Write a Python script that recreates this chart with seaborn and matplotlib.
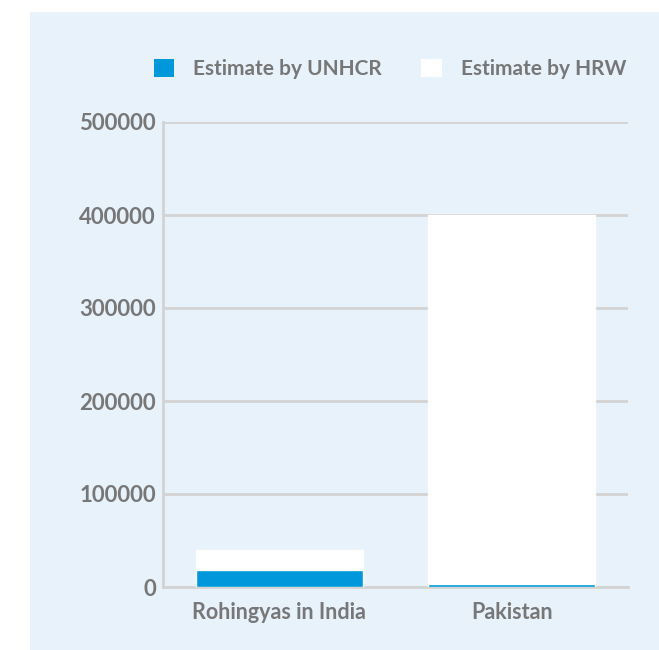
import matplotlib
matplotlib.use("Agg")
import matplotlib.pyplot as plt
from matplotlib.patches import Rectangle, Patch
import seaborn as sns
import pandas as pd

categories = ["Rohingyas in India", "Pakistan"]
unhcr = [18000, 3000]
hrw = [40000, 400000]
yticks = [0, 100000, 200000, 300000, 400000, 500000]
series_names = ["Estimate by UNHCR", "Estimate by HRW"]

BLUE = "#0098DA"
BG = "#E8F2FB"
GRID = "#D3D3D3"
TXT = "#777777"

sns.set_style("white")
plt.rcParams['font.family'] = ['Lato', 'DejaVu Sans']

W, H = 659, 650
fig = plt.figure(figsize=(W / 100, H / 100), dpi=100)
fig.patch.set_facecolor("white")
fig.patches.append(Rectangle((30 / W, 0), 1 - 30 / W, (H - 12) / H,
                             transform=fig.transFigure, facecolor=BG,
                             edgecolor="none", zorder=-10))

ax = fig.add_axes([163 / W, (H - 587) / H, 465 / W, 465 / H])
ax.set_facecolor("none")

df = pd.DataFrame({"cat": categories, "unhcr": unhcr, "hrw": hrw})
sns.barplot(data=df, x="cat", y="hrw", color="white", width=0.72,
            saturation=1, ax=ax, zorder=2)
sns.barplot(data=df, x="cat", y="unhcr", color=BLUE, width=0.72,
            saturation=1, ax=ax, zorder=3)

ax.set_xlim(-0.5, 1.5)
ax.set_ylim(0, 500000)
ax.set_yticks(yticks)
ax.set_yticklabels([str(v) for v in yticks])
ax.set_xlabel("")
ax.set_ylabel("")

ax.set_axisbelow(True)
ax.yaxis.grid(True, color=GRID, linewidth=2)
ax.xaxis.grid(False)
for s in ["top", "right"]:
    ax.spines[s].set_visible(False)
for s in ["left", "bottom"]:
    ax.spines[s].set_color(GRID)
    ax.spines[s].set_linewidth(2)
    ax.spines[s].set_zorder(1)

ax.tick_params(axis="y", length=0, pad=5, labelsize=16, labelcolor=TXT)
ax.tick_params(axis="x", which="major", length=0, pad=11, labelsize=15.5, labelcolor=TXT)
ax.set_xticks([-0.5, 0.5, 1.5], minor=True)
ax.tick_params(axis="x", which="minor", direction="in", length=8, width=2, color=GRID)
for lab in ax.get_xticklabels() + ax.get_yticklabels():
    lab.set_fontweight("bold")

handles = [Patch(facecolor=BLUE, edgecolor="none"),
           Patch(facecolor="white", edgecolor="none")]
fig.legend(handles, series_names, loc="center", bbox_to_anchor=(390 / W, 1 - 69 / H),
           ncol=2, frameon=False, handlelength=1.0, handleheight=1.0,
           handletextpad=0.9, columnspacing=1.9,
           prop={"size": 15, "weight": "bold"}, labelcolor=TXT)

fig.savefig("out.png", dpi=100)
